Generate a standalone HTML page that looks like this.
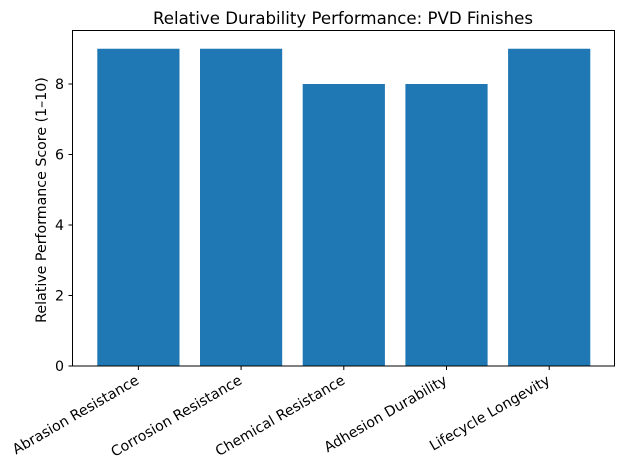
<!DOCTYPE html>
<html><head><style>
body{margin:0;background:#fff}
svg text{font-family:"DejaVu Sans","Liberation Sans",sans-serif;font-size:14.2px;fill:#000}
</style></head><body>
<svg width="624" height="470" xmlns="http://www.w3.org/2000/svg">
<text x="343" y="24" text-anchor="middle" style="font-size:16.6px">Relative Durability Performance: PVD Finishes</text>
<g fill="#1f77b4">
<rect x="97.3" y="48.75" width="82.2" height="317.25"/>
<rect x="200" y="48.75" width="82.2" height="317.25"/>
<rect x="302.7" y="84" width="82.2" height="282"/>
<rect x="405.4" y="84" width="82.2" height="282"/>
<rect x="508.1" y="48.75" width="82.2" height="317.25"/>
</g>
<g stroke="#000" stroke-width="1" fill="none">
<rect x="72.5" y="30.5" width="542" height="335.5"/>
<path d="M72.5 366h-4M72.5 295.5h-4M72.5 225h-4M72.5 154.5h-4M72.5 84h-4"/>
<path d="M138.4 366v4M241.1 366v4M343.8 366v4M446.5 366v4M549.2 366v4"/>
</g>
<g text-anchor="end">
<text x="64" y="371">0</text>
<text x="64" y="300.5">2</text>
<text x="64" y="230">4</text>
<text x="64" y="159.5">6</text>
<text x="64" y="89">8</text>
</g>
<text transform="translate(46,200) rotate(-90)" text-anchor="middle">Relative Performance Score (1–10)</text>
<g text-anchor="end">
<text transform="translate(140,383) rotate(-30)">Abrasion Resistance</text>
<text transform="translate(243,383) rotate(-30)">Corrosion Resistance</text>
<text transform="translate(346,383) rotate(-30)">Chemical Resistance</text>
<text transform="translate(448,383) rotate(-30)">Adhesion Durability</text>
<text transform="translate(551,383) rotate(-30)">Lifecycle Longevity</text>
</g>
</svg>
</body></html>
